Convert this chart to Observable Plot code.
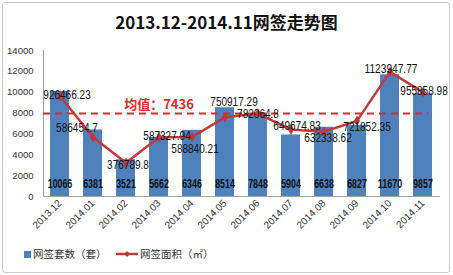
<!DOCTYPE html>
<html><head><meta charset="utf-8">
<script src="https://cdn.jsdelivr.net/npm/d3@7"></script>
<script src="https://cdn.jsdelivr.net/npm/@observablehq/plot@0.6"></script>
<style>
body{margin:0;background:#fff;}
#wrap{position:relative;width:453px;height:275px;overflow:hidden;font-family:"Noto Sans CJK SC",sans-serif;}
#border{position:absolute;left:2px;top:2px;width:448px;height:271px;border:1px solid #c8c8c8;border-radius:3px;box-sizing:border-box;}
#title{position:absolute;left:0;top:9px;width:453px;text-align:center;font-size:17px;font-weight:bold;color:#111;line-height:26px;}
#chart{position:absolute;left:0;top:40px;}
.leg{position:absolute;top:245px;font-size:10.5px;color:#333;line-height:18px;display:flex;align-items:center;}
</style></head>
<body>
<div id="wrap">
<div id="border"></div>
<div id="title">2013.12-2014.11网签走势图</div>
<div id="chart"></div>
<div class="leg" style="left:24px"><svg width="7" height="7" style="margin-right:2px"><rect width="7" height="7" fill="#4f81bd"/></svg>网签套数（套）</div>
<div class="leg" style="left:116px"><svg width="22" height="8" style="margin-right:2px"><line x1="0" y1="4" x2="22" y2="4" stroke="#c0393b" stroke-width="2.5"/><path d="M11,1 L14,4 L11,7 L8,4Z" fill="#c0393b"/></svg>网签面积（㎡）</div>
</div>
<script>
const months = ["2013.12","2014.01","2014.02","2014.03","2014.04","2014.05","2014.06","2014.07","2014.08","2014.09","2014.10","2014.11"];
const counts = [10066,6381,3521,5662,6346,8514,7848,5904,6638,6827,11670,9857];
const areas = [926466.23,586454.7,376789.8,587327.94,588840.21,750917.29,782064.8,649674.83,632338.62,721852.35,1123947.77,955858.98];
const areaLabels = ["926466.23","586454.7","376789.8","587327.94","588840.21","750917.29","782064.8","649674.83","632338.62","721852.35","1123947.77","955858.98"];
const yTicks = [0,2000,4000,6000,8000,10000,12000,14000];
const meanLabel = "均值：7436";
const meanLevel = 7950;       // where the dashed mean line sits in the picture
const meanLabelAt = "2014.03";
// hidden secondary axis for the area series
const secMin = 100000, secMax = 1300000, yMax = 14000;
// label nudges (dx, dy) per point, as seen in the picture
const nudgeX = [7,-16,2,8,3,9,0,6,4,10,1,1];
const nudgeY = [-1,-9,2,-1,12,-15,1,-3,6,6,-3,-1];

const data = months.map((m,i)=>({
  month:m, count:counts[i], area:areas[i], label:areaLabels[i],
  areaY:(areas[i]-secMin)/(secMax-secMin)*yMax, i
}));

const numFont = '"Liberation Sans",sans-serif';

const labelMarks = data.map(d => Plot.text([d], {
  x:"month", y:"areaY", text:"label", dx:nudgeX[d.i], dy:nudgeY[d.i],
  fontSize:12, fill:"#111", fontFamily:numFont, className:"alab"
}));

const plot = Plot.plot({
  width:453, height:205,
  marginLeft:43, marginRight:13, marginTop:10, marginBottom:49,
  style:{fontFamily:'"Liberation Sans",sans-serif', background:"transparent"},
  x:{type:"band", domain:months, paddingInner:0.42, paddingOuter:0.21, label:null},
  y:{domain:[0,yMax], label:null},
  marks:[
    Plot.axisY({ticks:yTicks, tickFormat:d=>String(d), tickSize:0, tickPadding:10, fontSize:9.5, fill:"#333", label:null}),
    Plot.axisX({tickRotate:-45, tickSize:0, tickPadding:5, fontSize:10, fill:"#333", label:null}),
    Plot.barY(data, {x:"month", y:"count", fill:"#4f81bd"}),
    Plot.ruleY([0], {stroke:"#a0a0a0"}),
    Plot.frame({anchor:"left", stroke:"#a0a0a0"}),
    Plot.text(data, {x:"month", y:0, text:d=>String(d.count), dy:-13, fontSize:13, fontWeight:"bold", fill:"#111", fontFamily:numFont, className:"cnt"}),
    Plot.line(data, {x:"month", y:"areaY", stroke:"#c0393b", strokeWidth:2.5}),
    Plot.dot(data, {x:"month", y:"areaY", symbol:"diamond", r:3.2, fill:"#c0393b", stroke:"none"}),
    Plot.ruleY([meanLevel], {stroke:"#e02a2a", strokeWidth:2, strokeDasharray:"7,5", insetRight:12}),
    Plot.text([meanLabel], {x:[meanLabelAt], y:[meanLevel], dy:-9, fontSize:13, fontWeight:"bold", fill:"#e02a2a", fontFamily:'"Noto Sans CJK SC",sans-serif'}),
    ...labelMarks
  ]
});
// condense the number glyphs to match the narrow face of the reference
function condense(sel, perDigit, perDot){
  plot.querySelectorAll(sel).forEach(t=>{
    const s=t.textContent; let L=0;
    for(const c of s) L += (c==="."?perDot:perDigit);
    t.setAttribute("textLength", L.toFixed(1));
    t.setAttribute("lengthAdjust","spacingAndGlyphs");
  });
}
condense("g.cnt text", 4.9, 2.4);
condense("g.alab text", 5.6, 2.6);
document.getElementById("chart").appendChild(plot);
</script>
</body></html>
